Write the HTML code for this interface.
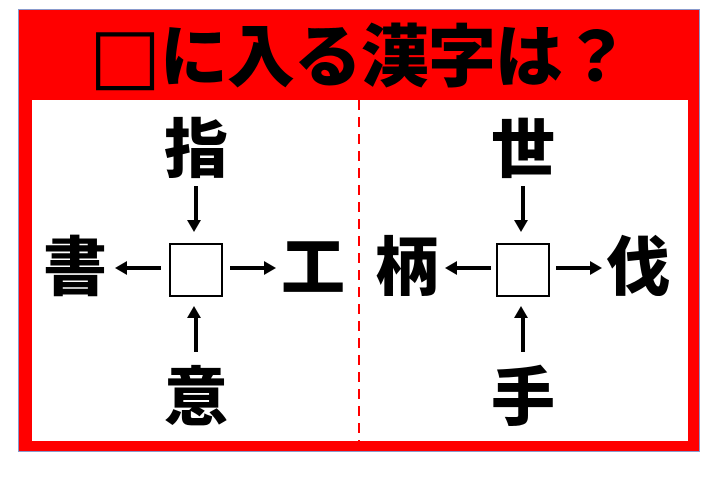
<!DOCTYPE html>
<html><head><meta charset="utf-8"><style>
body{margin:0;width:720px;height:493px;background:#fff;overflow:hidden;font-family:"Liberation Sans","Noto Sans CJK JP",sans-serif}
.k{position:absolute;font-weight:900;font-size:64px;line-height:64px;width:80px;text-align:center;color:#000}
</style></head><body>
<div style="position:absolute;left:19px;top:10px;width:680px;height:441px;background:#f00;outline:1px solid #8899cc"></div>
<div style="position:absolute;left:32px;top:100px;width:656px;height:341px;background:#fff"></div>
<div style="position:absolute;left:19px;top:19px;width:680px;text-align:center;font-size:68px;font-weight:900;line-height:72px;color:#000;letter-spacing:-1px"><span style="font-family:'DejaVu Sans',sans-serif;font-weight:400;font-size:76px">□</span>に入る漢字は？</div>
<svg style="position:absolute;left:0;top:0" width="720" height="493">
<line x1="359" y1="100" x2="359" y2="441" stroke="#f00" stroke-width="2" stroke-dasharray="10,7"/>
<g stroke="#000" stroke-width="2" fill="none">
<rect x="170" y="244" width="52" height="52"/>
<rect x="497" y="244" width="52" height="52"/>
</g>
<g fill="#000">
<rect x="194" y="186" width="4" height="36"/><path d="M187,220h14l-7,12z"/>
<rect x="194" y="316" width="4" height="36"/><path d="M187,318h14l-7,-12z"/>
<rect x="125" y="266" width="36" height="4"/><path d="M127,261v14l-12,-7z"/>
<rect x="230" y="266" width="36" height="4"/><path d="M264,261v14l12,-7z"/>
<rect x="521" y="186" width="4" height="36"/><path d="M514,220h14l-7,12z"/>
<rect x="521" y="316" width="4" height="36"/><path d="M514,318h14l-7,-12z"/>
<rect x="455" y="266" width="36" height="4"/><path d="M457,261v14l-12,-7z"/>
<rect x="556" y="266" width="36" height="4"/><path d="M590,261v14l12,-7z"/>
</g>
</svg>
<div class="k" style="left:156px;top:118px">指</div>
<div class="k" style="left:35px;top:236px">書</div>
<div class="k" style="left:273px;top:236px">工</div>
<div class="k" style="left:156px;top:366px">意</div>
<div class="k" style="left:483px;top:118px">世</div>
<div class="k" style="left:367px;top:236px">柄</div>
<div class="k" style="left:598px;top:236px">伐</div>
<div class="k" style="left:483px;top:366px">手</div>
</body></html>
